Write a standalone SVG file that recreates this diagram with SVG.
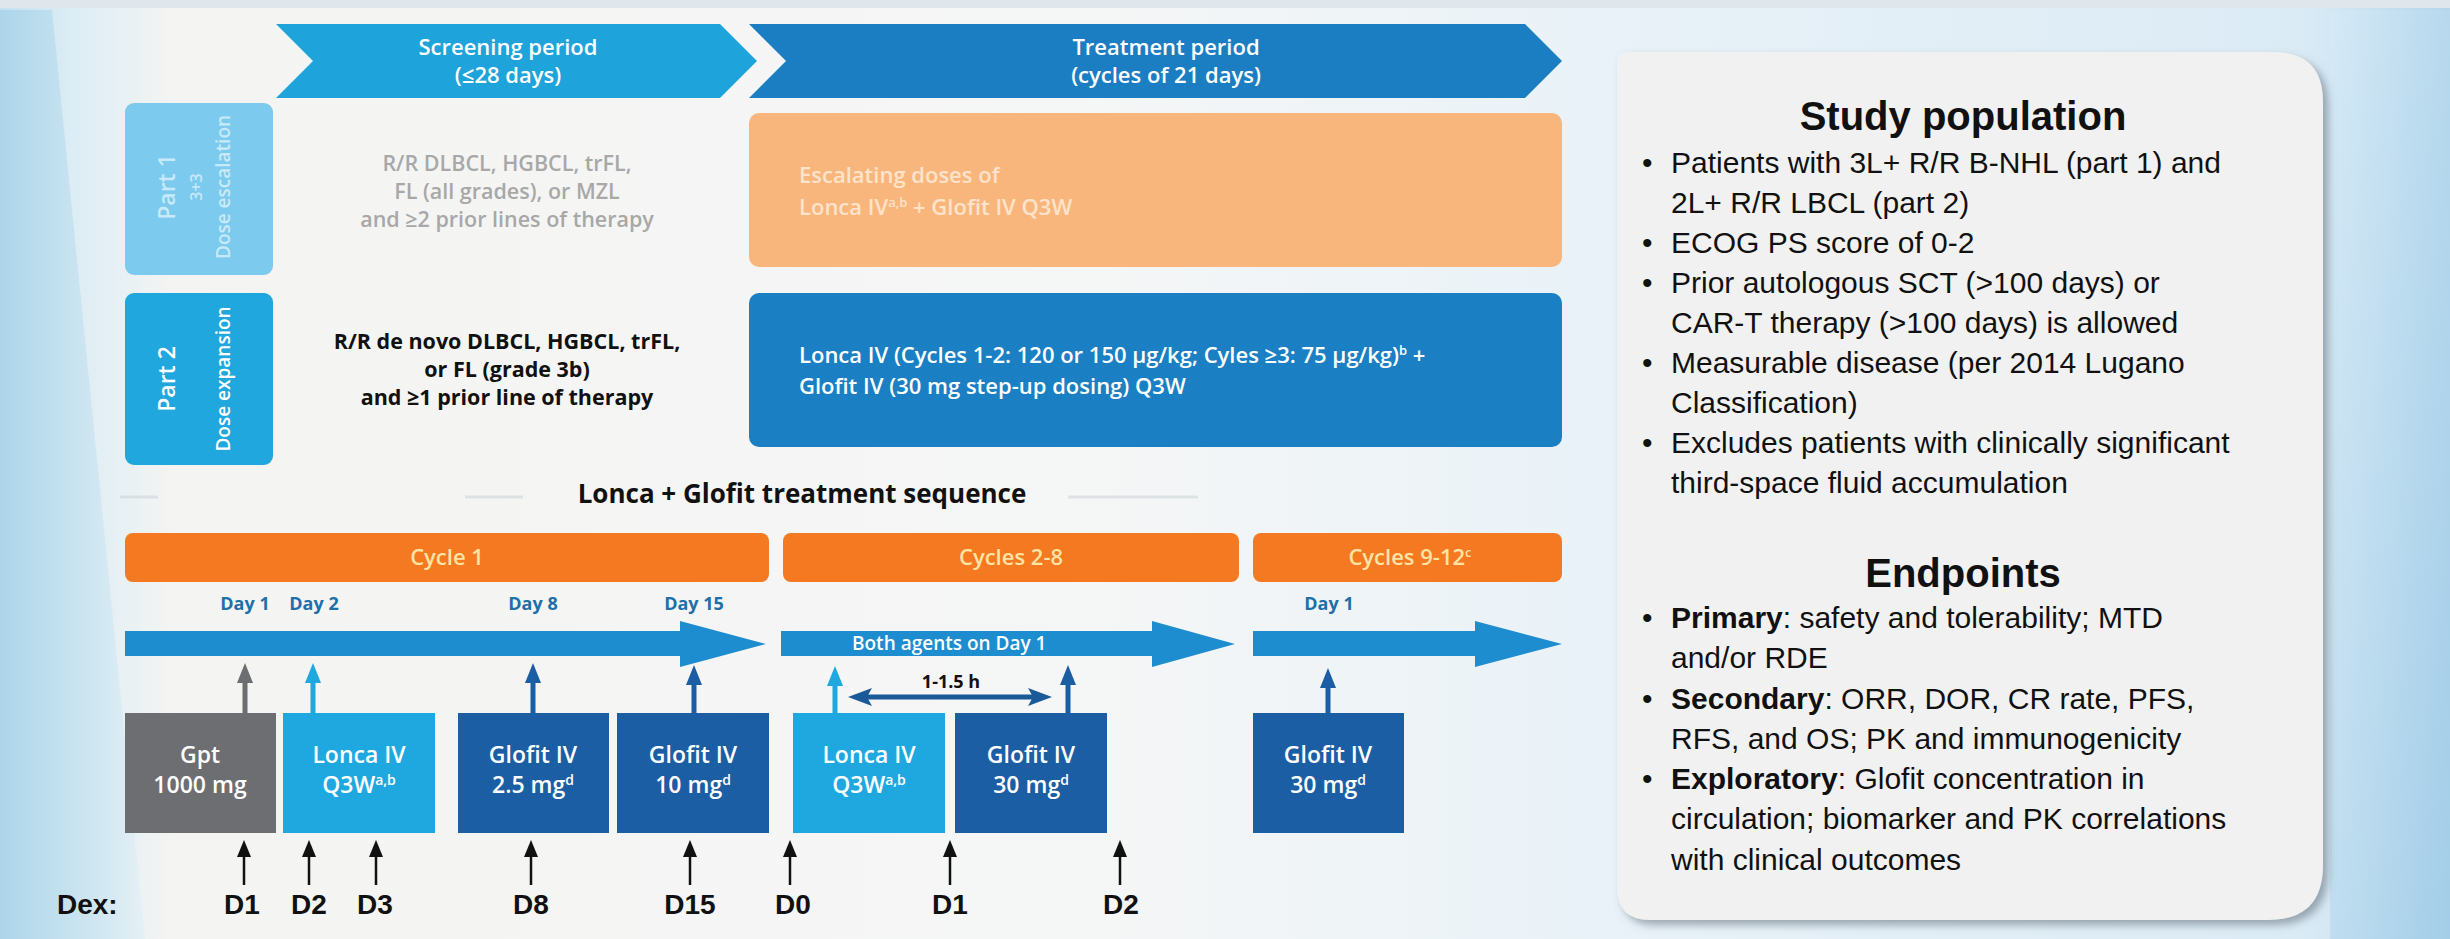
<svg xmlns="http://www.w3.org/2000/svg" width="2450" height="939" viewBox="0 0 2450 939">
<defs>
<style>
.os{font-family:"Open Sans","Liberation Sans",sans-serif}
.ar{font-family:"Liberation Sans",Arial,sans-serif}
.chev{font-size:22px;font-weight:600;fill:#fff;text-anchor:middle}
.crit{font-size:21.5px;text-anchor:middle}
.cyc{font-size:22px;font-weight:600;fill:#fde4a6;text-anchor:middle}
.day{font-size:18px;font-weight:700;fill:#1f6fa9;text-anchor:middle}
.box{font-size:23px;font-weight:600;fill:#fff;text-anchor:middle}
.dex{font-size:28px;font-weight:700;fill:#111;text-anchor:middle}
.pt{font-size:30px;fill:#111}
.ph{font-size:40px;font-weight:700;fill:#111;text-anchor:middle}
.tl{fill:#1d8dd0}
.gpt{fill:#6d6e71}
.lon{fill:#1fa8df}
.glo{fill:#1b5ea4}
</style>
<linearGradient id="bg" x1="0" y1="0" x2="1" y2="0">
<stop offset="0" stop-color="#c3e1f0"/>
<stop offset="0.03" stop-color="#dcedf5"/>
<stop offset="0.07" stop-color="#f4f4f2"/>
<stop offset="0.45" stop-color="#f5f6f6"/>
<stop offset="0.65" stop-color="#e9f2f8"/>
<stop offset="0.94" stop-color="#dbebf5"/>
<stop offset="1" stop-color="#b3d6ec"/>
</linearGradient>
<linearGradient id="lft" x1="0" y1="0" x2="1" y2="0">
<stop offset="0" stop-color="#a9d3e8"/>
<stop offset="0.7" stop-color="#cfe6f1"/>
<stop offset="1" stop-color="#e4f0f5"/>
</linearGradient>
<linearGradient id="rgt" x1="0" y1="0" x2="1" y2="1">
<stop offset="0" stop-color="#d6eaf6"/>
<stop offset="1" stop-color="#9cc9e6"/>
</linearGradient>
<filter id="sh" x="-5%" y="-5%" width="112%" height="112%">
<feDropShadow dx="5" dy="5" stdDeviation="4" flood-color="#5d6b76" flood-opacity="0.55"/>
</filter>
<marker id="mGpt" viewBox="0 0 20 16" refX="0" refY="8" markerWidth="20" markerHeight="16" markerUnits="userSpaceOnUse" orient="auto"><path d="M0,0 L20,8 L0,16 z" fill="#6d6e71"/></marker>
<marker id="mLon" viewBox="0 0 20 16" refX="0" refY="8" markerWidth="20" markerHeight="16" markerUnits="userSpaceOnUse" orient="auto"><path d="M0,0 L20,8 L0,16 z" fill="#1fa8df"/></marker>
<marker id="mGlo" viewBox="0 0 20 16" refX="0" refY="8" markerWidth="20" markerHeight="16" markerUnits="userSpaceOnUse" orient="auto"><path d="M0,0 L20,8 L0,16 z" fill="#1b5ea4"/></marker>
<marker id="mDex" viewBox="0 0 17 14" refX="0" refY="7" markerWidth="17" markerHeight="14" markerUnits="userSpaceOnUse" orient="auto"><path d="M0,0 L17,7 L0,14 z" fill="#111"/></marker>
<marker id="mDbl" viewBox="0 0 24 18" refX="5" refY="9" markerWidth="24" markerHeight="18" markerUnits="userSpaceOnUse" orient="auto-start-reverse"><path d="M0,0 L24,9 L0,18 L5,9 z" fill="#1b5a99"/></marker>
</defs>

<g id="background">
<rect x="0" y="0" width="2450" height="939" fill="url(#bg)"/>
<polygon points="0,10 52,10 145,939 0,939" fill="url(#lft)" opacity="0.85"/>
<polygon points="2330,10 2450,10 2450,939 2330,939" fill="url(#rgt)" opacity="0.7"/>
<rect x="0" y="0" width="2450" height="8" fill="#dfe7ed"/>
<g stroke="#c9d0d6" stroke-width="3" opacity="0.5">
<line x1="120" y1="497" x2="158" y2="497"/>
<line x1="465" y1="497" x2="523" y2="497"/>
<line x1="1068" y1="497" x2="1198" y2="497"/>
</g>
</g>

<g id="screening-period">
<polygon points="276,24 720,24 757,61 720,98 276,98 313,61" fill="#1ea3db"/>
<text class="os chev" x="508" y="55">Screening period</text>
<text class="os chev" x="508" y="83">(≤28 days)</text>
</g>

<g id="treatment-period">
<polygon points="749,24 1525,24 1562,61 1525,98 749,98 786,61" fill="#1b7ec2"/>
<text class="os chev" x="1166" y="55">Treatment period</text>
<text class="os chev" x="1166" y="83">(cycles of 21 days)</text>
</g>

<g id="part1">
<rect x="125" y="103" width="148" height="172" rx="9" fill="#7ccaee"/>
<g fill="#c8eaf8" class="os" text-anchor="middle" font-weight="600">
<text font-size="23" transform="translate(175,187) rotate(-90)">Part 1</text>
<text font-size="16" transform="translate(202,187) rotate(-90)">3+3</text>
<text font-size="19" transform="translate(230,187) rotate(-90)">Dose escalation</text>
</g>
</g>

<g id="part2">
<rect x="125" y="293" width="148" height="172" rx="9" fill="#20a7de"/>
<g fill="#fff" class="os" text-anchor="middle" font-weight="600">
<text font-size="23" transform="translate(175,379) rotate(-90)">Part 2</text>
<text font-size="19" transform="translate(230,379) rotate(-90)">Dose expansion</text>
</g>
</g>

<g id="part1-criteria">
<text class="os crit" fill="#a8a8a8" font-weight="600"><tspan x="507" y="171">R/R DLBCL, HGBCL, trFL,</tspan><tspan x="507" y="199">FL (all grades), or MZL</tspan><tspan x="507" y="227">and ≥2 prior lines of therapy</tspan></text>
</g>

<g id="part2-criteria">
<text class="os crit" fill="#111" font-weight="700"><tspan x="507" y="349">R/R de novo DLBCL, HGBCL, trFL,</tspan><tspan x="507" y="377">or FL (grade 3b)</tspan><tspan x="507" y="405">and ≥1 prior line of therapy</tspan></text>
</g>

<g id="part1-treatment">
<rect x="749" y="113" width="813" height="154" rx="10" fill="#f9b67c"/>
<text class="os" font-size="22" font-weight="600" fill="#fde3cb"><tspan x="799" y="183">Escalating doses of</tspan><tspan x="799" y="215">Lonca IV</tspan><tspan dy="-8" font-size="13">a,b</tspan><tspan dy="8"> + Glofit IV Q3W</tspan></text>
</g>

<g id="part2-treatment">
<rect x="749" y="293" width="813" height="154" rx="10" fill="#1a80c3"/>
<text class="os" font-size="22" font-weight="600" fill="#fff"><tspan x="799" y="363">Lonca IV (Cycles 1-2: 120 or 150 µg/kg; Cyles ≥3: 75 µg/kg)</tspan><tspan dy="-8" font-size="13">b</tspan><tspan dy="8"> +</tspan><tspan x="799" y="394">Glofit IV (30 mg step-up dosing) Q3W</tspan></text>
</g>

<g id="sequence-title">
<text class="os" x="802" y="503" font-size="26" font-weight="700" fill="#111" text-anchor="middle">Lonca + Glofit treatment sequence</text>
</g>

<g id="cycle1">
<rect x="125" y="533" width="644" height="49" rx="8" fill="#f47920"/>
<text class="os cyc" x="447" y="565">Cycle 1</text>
</g>
<g id="cycles2-8">
<rect x="783" y="533" width="456" height="49" rx="8" fill="#f47920"/>
<text class="os cyc" x="1011" y="565">Cycles 2-8</text>
</g>
<g id="cycles9-12">
<rect x="1253" y="533" width="309" height="49" rx="8" fill="#f47920"/>
<text class="os cyc" x="1410" y="565">Cycles 9-12<tspan dy="-8" font-size="13">c</tspan></text>
</g>

<g id="day-labels" class="os">
<text class="day" x="245" y="610">Day 1</text>
<text class="day" x="314" y="610">Day 2</text>
<text class="day" x="533" y="610">Day 8</text>
<text class="day" x="694" y="610">Day 15</text>
<text class="day" x="1329" y="610">Day 1</text>
</g>

<g id="timeline1">
<polygon class="tl" points="125,631 680,631 680,621 766,644 680,667 680,656 125,656"/>
</g>
<g id="timeline2">
<polygon class="tl" points="781,631 1152,631 1152,621 1235,644 1152,667 1152,656 781,656"/>
<text class="os" x="852" y="650" font-size="19" font-weight="600" fill="#fff">Both agents on Day 1</text>
</g>
<g id="timeline3">
<polygon class="tl" points="1253,631 1475,631 1475,621 1562,644 1475,667 1475,656 1253,656"/>
</g>

<g id="box-gpt">
<rect class="gpt" x="125" y="713" width="151" height="120"/>
<text class="os box" x="200" y="763">Gpt</text>
<text class="os box" x="200" y="793">1000 mg</text>
</g>
<g id="box-lonca-c1">
<rect class="lon" x="283" y="713" width="152" height="120"/>
<text class="os box" x="359" y="763">Lonca IV</text>
<text class="os box" x="359" y="793">Q3W<tspan dy="-8" font-size="14">a,b</tspan></text>
</g>
<g id="box-glofit-2-5">
<rect class="glo" x="458" y="713" width="151" height="120"/>
<text class="os box" x="533" y="763">Glofit IV</text>
<text class="os box" x="533" y="793">2.5 mg<tspan dy="-8" font-size="14">d</tspan></text>
</g>
<g id="box-glofit-10">
<rect class="glo" x="617" y="713" width="152" height="120"/>
<text class="os box" x="693" y="763">Glofit IV</text>
<text class="os box" x="693" y="793">10 mg<tspan dy="-8" font-size="14">d</tspan></text>
</g>
<g id="box-lonca-c2">
<rect class="lon" x="793" y="713" width="152" height="120"/>
<text class="os box" x="869" y="763">Lonca IV</text>
<text class="os box" x="869" y="793">Q3W<tspan dy="-8" font-size="14">a,b</tspan></text>
</g>
<g id="box-glofit-30-c2">
<rect class="glo" x="955" y="713" width="152" height="120"/>
<text class="os box" x="1031" y="763">Glofit IV</text>
<text class="os box" x="1031" y="793">30 mg<tspan dy="-8" font-size="14">d</tspan></text>
</g>
<g id="box-glofit-30-c9">
<rect class="glo" x="1253" y="713" width="151" height="120"/>
<text class="os box" x="1328" y="763">Glofit IV</text>
<text class="os box" x="1328" y="793">30 mg<tspan dy="-8" font-size="14">d</tspan></text>
</g>

<g id="connectors">
<line x1="245" y1="713" x2="245" y2="683" stroke="#6d6e71" stroke-width="5" marker-end="url(#mGpt)"/>
<line x1="313" y1="713" x2="313" y2="683" stroke="#1fa8df" stroke-width="5" marker-end="url(#mLon)"/>
<line x1="533" y1="713" x2="533" y2="683" stroke="#1b5ea4" stroke-width="5" marker-end="url(#mGlo)"/>
<line x1="694" y1="713" x2="694" y2="685" stroke="#1b5ea4" stroke-width="5" marker-end="url(#mGlo)"/>
<line x1="835" y1="713" x2="835" y2="686" stroke="#1fa8df" stroke-width="5" marker-end="url(#mLon)"/>
<line x1="1068" y1="713" x2="1068" y2="685" stroke="#1b5ea4" stroke-width="5" marker-end="url(#mGlo)"/>
<line x1="1328" y1="713" x2="1328" y2="688" stroke="#1b5ea4" stroke-width="5" marker-end="url(#mGlo)"/>
<line x1="867" y1="697" x2="1033" y2="697" stroke="#1b5a99" stroke-width="5" marker-start="url(#mDbl)" marker-end="url(#mDbl)"/>
<g stroke="#111" stroke-width="2.5" marker-end="url(#mDex)">
<line x1="244" y1="885" x2="244" y2="857"/>
<line x1="309" y1="885" x2="309" y2="857"/>
<line x1="376" y1="885" x2="376" y2="857"/>
<line x1="531" y1="885" x2="531" y2="857"/>
<line x1="690" y1="885" x2="690" y2="857"/>
<line x1="790" y1="885" x2="790" y2="857"/>
<line x1="950" y1="885" x2="950" y2="857"/>
<line x1="1120" y1="885" x2="1120" y2="857"/>
</g>
</g>

<g id="interval-label">
<text class="os" x="951" y="688" font-size="18" font-weight="700" fill="#111" text-anchor="middle">1-1.5 h</text>
</g>

<g id="dex-labels" class="ar">
<text x="57" y="914" font-size="28" font-weight="700" fill="#111">Dex:</text>
<text class="dex" x="242" y="914">D1</text>
<text class="dex" x="309" y="914">D2</text>
<text class="dex" x="375" y="914">D3</text>
<text class="dex" x="531" y="914">D8</text>
<text class="dex" x="690" y="914">D15</text>
<text class="dex" x="793" y="914">D0</text>
<text class="dex" x="950" y="914">D1</text>
<text class="dex" x="1121" y="914">D2</text>
</g>

<g id="info-panel">
<path d="M1627,52 L2273,52 Q2323,52 2323,102 L2323,865 Q2323,920 2268,920 L1650,920 Q1617,920 1617,887 L1617,62 Q1617,52 1627,52 Z" fill="#f1f1f1" filter="url(#sh)"/>
<g class="ar">
<text class="ph" x="1963" y="130">Study population</text>
<g class="pt">
<text x="1642" y="173">•</text><text x="1671" y="173">Patients with 3L+ R/R B-NHL (part 1) and</text>
<text x="1671" y="213">2L+ R/R LBCL (part 2)</text>
<text x="1642" y="253">•</text><text x="1671" y="253">ECOG PS score of 0-2</text>
<text x="1642" y="293">•</text><text x="1671" y="293">Prior autologous SCT (&gt;100 days) or</text>
<text x="1671" y="333">CAR-T therapy (&gt;100 days) is allowed</text>
<text x="1642" y="373">•</text><text x="1671" y="373">Measurable disease (per 2014 Lugano</text>
<text x="1671" y="413">Classification)</text>
<text x="1642" y="453">•</text><text x="1671" y="453">Excludes patients with clinically significant</text>
<text x="1671" y="493">third-space fluid accumulation</text>
</g>
<text class="ph" x="1963" y="587">Endpoints</text>
<g class="pt">
<text x="1642" y="628">•</text><text x="1671" y="628"><tspan font-weight="700">Primary</tspan>: safety and tolerability; MTD</text>
<text x="1671" y="668">and/or RDE</text>
<text x="1642" y="709">•</text><text x="1671" y="709"><tspan font-weight="700">Secondary</tspan>: ORR, DOR, CR rate, PFS,</text>
<text x="1671" y="749">RFS, and OS; PK and immunogenicity</text>
<text x="1642" y="789">•</text><text x="1671" y="789"><tspan font-weight="700">Exploratory</tspan>: Glofit concentration in</text>
<text x="1671" y="829">circulation; biomarker and PK correlations</text>
<text x="1671" y="870">with clinical outcomes</text>
</g>
</g>
</g>
</svg>
